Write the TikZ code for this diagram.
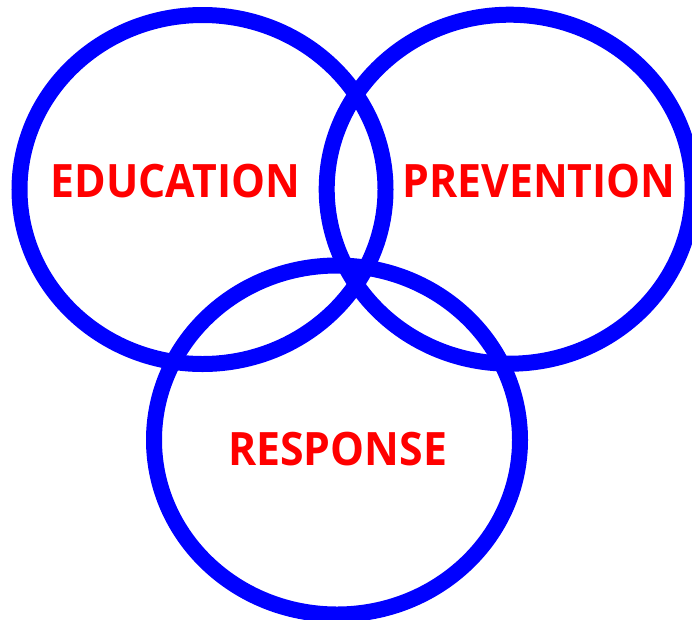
\documentclass[tikz,border=0pt]{standalone}
\usepackage{fontspec}
\setmainfont{Open Sans}
\newfontfamily\labelfont[FakeStretch=0.93]{Open Sans}
\usepackage{tikz}

\tikzset{
  ring/.style={draw=blue, line width=16pt},
  word/.style={text=red, font=\labelfont\fontsize{46}{48}\selectfont\bfseries, anchor=base, inner sep=0pt}
}

\begin{document}
\begin{tikzpicture}[x=1pt,y=-1pt]
  \useasboundingbox (0,0) rectangle (692,619);
  \clip (0,0) rectangle (692,619);

  % the three rings
  \draw[ring] (202.5,189.5) ellipse [x radius=183, y radius=174.5];
  \draw[ring] (509.7,189.2) ellipse [x radius=183, y radius=174.5];
  \draw[ring] (337,440) ellipse [x radius=183, y radius=174.5];

  % labels
  \node[word] (edu) at (175.5,197) {EDUCATION};
  \node[word] (prev) at (539,197) {PREVENTION};
  \node[word] (resp) at (337.5,465) {RESPONSE};
\end{tikzpicture}
\end{document}
